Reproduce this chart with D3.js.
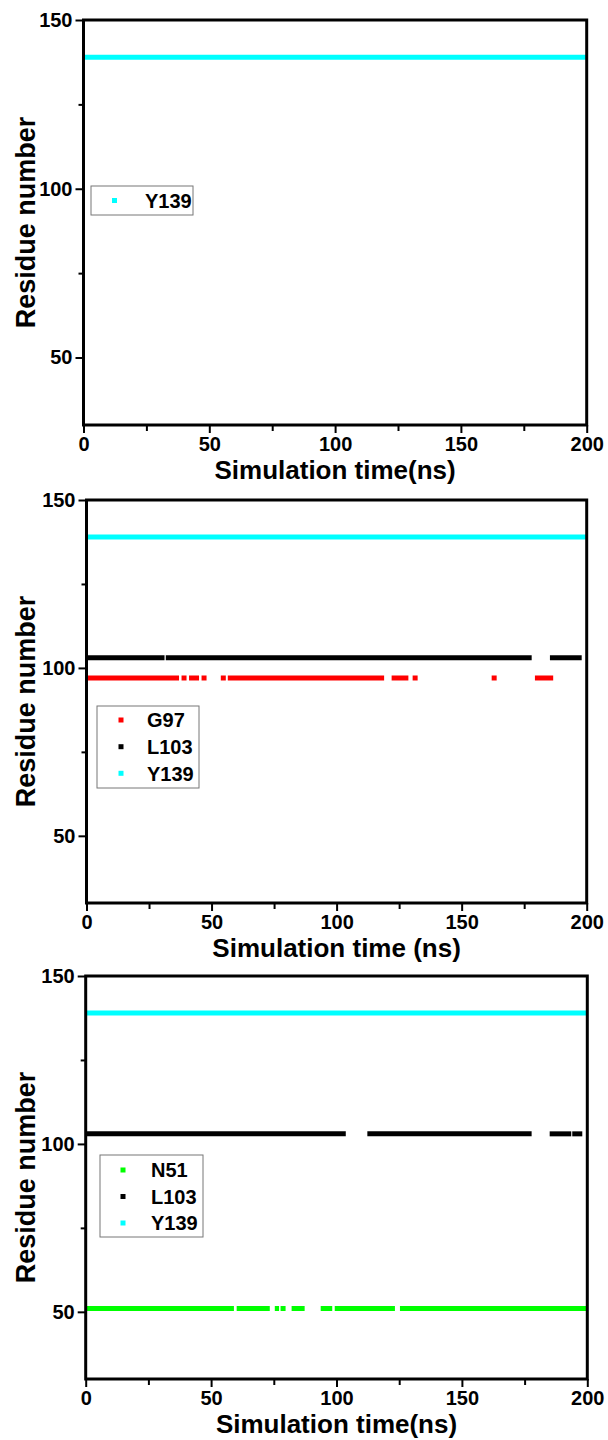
<!DOCTYPE html>
<html>
<head>
<meta charset="utf-8">
<script src="https://cdn.jsdelivr.net/npm/d3@7"></script>
<style>
  html, body { margin: 0; padding: 0; background: #ffffff; }
  svg { display: block; }
  text { font-family: "Liberation Sans", Arial, sans-serif; font-weight: bold; }
</style>
</head>
<body>
<svg id="chart" width="608" height="1440"></svg>
<script>
// ---------- data ----------
const xDomain = [0, 200];
const yDomain = [30, 150];
const xTicks = [0, 50, 100, 150, 200];
const xMinorTicks = [25, 75, 125, 175];
const yTicks = [50, 100, 150];
const yMinorTicks = [75, 125];

const yTitle = "Residue number";
const xTitles = ["Simulation time(ns)", "Simulation time (ns)", "Simulation time(ns)"];

// residue labels, residue numbers, colours per panel
const panel1Labels = ["Y139"];
const panel1Residues = [139];
const panel1Colors = ["#00ffff"];
// occupancy intervals [start ns, end ns]
const panel1Y139 = [[0, 200]];

const panel2Labels = ["G97", "L103", "Y139"];
const panel2Residues = [97, 103, 139];
const panel2Colors = ["#ff0000", "#000000", "#00ffff"];
const panel2G97 = [[0, 37], [38, 40], [41, 45], [46, 48], [53.7, 55.7], [56.5, 119],
                   [122, 128.7], [130.4, 132.4], [162, 164], [179.3, 186.6]];
const panel2L103 = [[0, 31.2], [31.7, 178], [185.3, 198]];
const panel2Y139 = [[0, 200]];

const panel3Labels = ["N51", "L103", "Y139"];
const panel3Residues = [51, 103, 139];
const panel3Colors = ["#00ff00", "#000000", "#00ffff"];
const panel3N51 = [[0, 59.1], [60.2, 73.4], [75.4, 77.1], [77.7, 79.7], [82.1, 87.3],
                   [93.7, 98.3], [99.3, 123.3], [125.3, 200]];
const panel3L103 = [[0, 103.7], [112.3, 177.8], [185, 193.6], [194, 198]];
const panel3Y139 = [[0, 200]];

// ---------- layout ----------
const panels = [
  { box: { left: 83.5, right: 586.7, top: 20, bottom: 425 },
    labels: panel1Labels, residues: panel1Residues, colors: panel1Colors,
    series: [panel1Y139],
    legend: { x: 91, y: 186, w: 102, h: 29, markerX: 114.5, textX: 145, rowY: [200.5] } },
  { box: { left: 86.5, right: 586.7, top: 500, bottom: 903 },
    labels: panel2Labels, residues: panel2Residues, colors: panel2Colors,
    series: [panel2G97, panel2L103, panel2Y139],
    legend: { x: 97, y: 706, w: 102, h: 82, markerX: 121, textX: 147, rowY: [720, 746.7, 773.3] } },
  { box: { left: 85.7, right: 587.3, top: 976, bottom: 1379 },
    labels: panel3Labels, residues: panel3Residues, colors: panel3Colors,
    series: [panel3N51, panel3L103, panel3Y139],
    legend: { x: 100, y: 1155, w: 103, h: 82, markerX: 123, textX: 151, rowY: [1170, 1196.5, 1223] } }
];

const svg = d3.select("#chart");
svg.append("rect").attr("width", 608).attr("height", 1440).attr("fill", "#ffffff");

panels.forEach((p, pi) => {
  const b = p.box;
  const x = d3.scaleLinear().domain(xDomain).range([b.left, b.right]);
  const y = d3.scaleLinear().domain(yDomain).range([b.bottom, b.top]);
  const g = svg.append("g");

  // series (occupancy segments)
  p.series.forEach((segs, si) => {
    const r = p.residues[si];
    g.append("g").selectAll("line").data(segs).join("line")
      .attr("x1", d => x(d[0]))
      .attr("x2", d => x(d[1]))
      .attr("y1", y(r)).attr("y2", y(r))
      .attr("stroke", p.colors[si])
      .attr("stroke-width", 5);
  });

  // x axis major
  g.append("g").attr("transform", `translate(0,${b.bottom})`)
    .call(d3.axisBottom(x).tickValues(xTicks).tickSize(8).tickPadding(4).tickFormat(d3.format("d")))
    .call(a => a.select(".domain").remove())
    .call(a => a.selectAll("line").attr("stroke", "#000").attr("stroke-width", 2))
    .call(a => a.selectAll("text").attr("font-size", 20).attr("fill", "#000")
      .attr("font-family", '"Liberation Sans", Arial, sans-serif').attr("font-weight", "bold"));
  // x axis minor
  g.append("g").attr("transform", `translate(0,${b.bottom})`)
    .call(d3.axisBottom(x).tickValues(xMinorTicks).tickSize(6).tickFormat(""))
    .call(a => a.select(".domain").remove())
    .call(a => a.selectAll("line").attr("stroke", "#000").attr("stroke-width", 2));

  // y axis major
  g.append("g").attr("transform", `translate(${b.left},0)`)
    .call(d3.axisLeft(y).tickValues(yTicks).tickSize(8).tickPadding(3).tickFormat(d3.format("d")))
    .call(a => a.select(".domain").remove())
    .call(a => a.selectAll("line").attr("stroke", "#000").attr("stroke-width", 2))
    .call(a => a.selectAll("text").attr("font-size", 20).attr("fill", "#000")
      .attr("font-family", '"Liberation Sans", Arial, sans-serif').attr("font-weight", "bold"));
  // y axis minor
  g.append("g").attr("transform", `translate(${b.left},0)`)
    .call(d3.axisLeft(y).tickValues(yMinorTicks).tickSize(5).tickFormat(""))
    .call(a => a.select(".domain").remove())
    .call(a => a.selectAll("line").attr("stroke", "#000").attr("stroke-width", 2));

  // frame
  g.append("rect")
    .attr("x", b.left).attr("y", b.top)
    .attr("width", b.right - b.left).attr("height", b.bottom - b.top)
    .attr("fill", "none").attr("stroke", "#000").attr("stroke-width", 3);

  // titles
  g.append("text")
    .attr("x", (b.left + b.right) / 2).attr("y", b.bottom + 54)
    .attr("text-anchor", "middle").attr("font-size", 26).attr("fill", "#000")
    .text(xTitles[pi]);
  g.append("text")
    .attr("transform", `translate(35,${(b.top + b.bottom) / 2}) rotate(-90)`)
    .attr("text-anchor", "middle").attr("font-size", 27).attr("fill", "#000")
    .text(yTitle);

  // legend
  const L = p.legend;
  g.append("rect").attr("x", L.x).attr("y", L.y).attr("width", L.w).attr("height", L.h)
    .attr("fill", "#fff").attr("stroke", "#777").attr("stroke-width", 1);
  const items = g.append("g").selectAll("g").data(p.labels).join("g");
  items.append("rect")
    .attr("x", L.markerX - 2.5).attr("y", (d, i) => L.rowY[i] - 2.5)
    .attr("width", 5).attr("height", 5)
    .attr("fill", (d, i) => p.colors[i]);
  items.append("text")
    .attr("x", L.textX).attr("y", (d, i) => L.rowY[i])
    .attr("dy", "0.36em").attr("font-size", 20).attr("fill", "#000")
    .text(d => d);
});
</script>
</body>
</html>
